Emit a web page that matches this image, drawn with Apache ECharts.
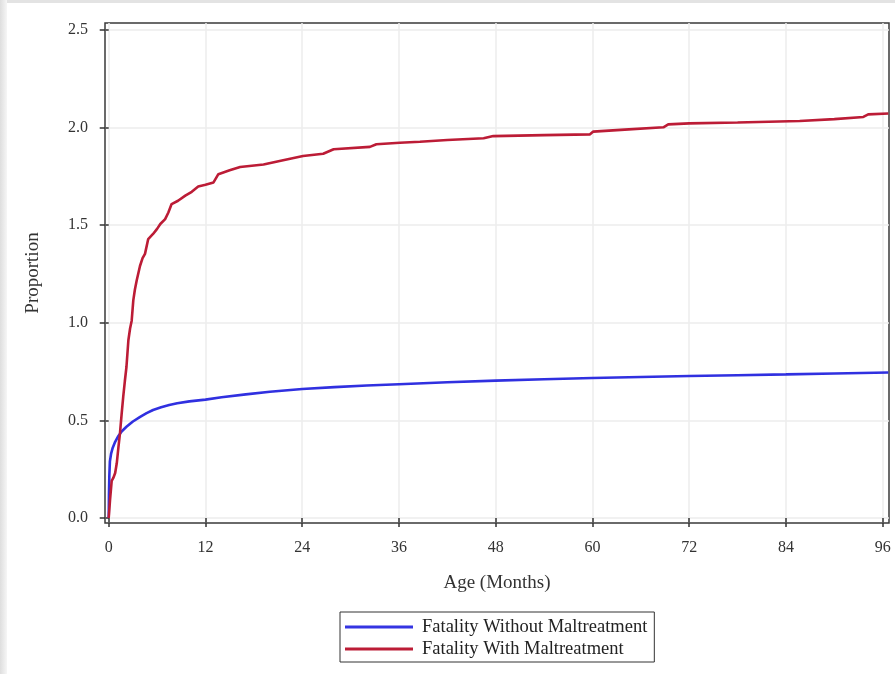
<!DOCTYPE html>
<html>
<head>
<meta charset="utf-8">
<script src="https://cdn.jsdelivr.net/npm/echarts@6/dist/echarts.min.js"></script>
<style>
html,body{margin:0;padding:0;background:#ffffff;}
#chart{width:895px;height:674px;}
</style>
</head>
<body>
<div id="chart"></div>
<script>
var xTicks = [0, 12, 24, 36, 48, 60, 72, 84, 96];
var yTicks = [0, 0.5, 1.0, 1.5, 2.0, 2.5];
var seriesNames = ['Fatality Without Maltreatment', 'Fatality With Maltreatment'];
var xTitle = 'Age (Months)';
var yTitle = 'Proportion';

var withoutMaltreatment = [
  [0,0],[0.03,0.12],[0.08,0.22],[0.15,0.29],[0.3,0.33],[0.5,0.36],[0.8,0.39],[1.2,0.42],[1.6,0.443],
  [2.2,0.467],[3,0.494],[3.9,0.518],[4.7,0.537],[5.5,0.553],[6.5,0.567],[7.5,0.578],[8.5,0.587],
  [10,0.597],[12,0.606],[14,0.618],[17,0.633],[20,0.646],[24,0.66],[28,0.67],[32,0.678],[36,0.685],
  [42,0.695],[48,0.703],[54,0.71],[60,0.717],[66,0.722],[72,0.727],[78,0.731],[84,0.735],[90,0.74],
  [96.7,0.745]
];
var withMaltreatment = [
  [0,0],[0.16,0.09],[0.37,0.19],[0.57,0.205],[0.8,0.23],[1.0,0.28],[1.2,0.36],[1.4,0.434],[1.6,0.53],
  [1.8,0.62],[2.0,0.70],[2.2,0.773],[2.44,0.91],[2.65,0.97],[2.85,1.01],[3.05,1.114],[3.25,1.17],
  [3.47,1.216],[3.88,1.29],[4.2,1.33],[4.5,1.352],[4.9,1.428],[5.5,1.454],[6.0,1.48],[6.4,1.505],
  [7.0,1.53],[7.4,1.564],[7.8,1.607],[8.6,1.624],[9.5,1.65],[10.3,1.67],[11.1,1.697],[12.0,1.706],
  [13.0,1.718],[13.6,1.76],[15.0,1.78],[16.3,1.797],[19.2,1.81],[21.2,1.828],[24.1,1.853],[26.6,1.865],
  [27.9,1.888],[32.4,1.90],[33.2,1.913],[36.1,1.921],[38.6,1.926],[42,1.935],[46.5,1.944],[47.7,1.955],
  [54,1.96],[59.7,1.964],[60.1,1.978],[64,1.988],[68.8,2.0],[69.4,2.015],[72,2.02],[78,2.025],
  [85.7,2.032],[90,2.042],[93.6,2.053],[94.2,2.066],[96.7,2.071]
];

var FONT = 'Liberation Serif';
var chart = echarts.init(document.getElementById('chart'), null, {renderer: 'canvas'});
chart.setOption({
  animation: false,
  backgroundColor: '#ffffff',
  graphic: [
    {type: 'rect', shape: {x: 0, y: 0, width: 895, height: 3}, style: {fill: '#e3e3e3'}, silent: true},
    {type: 'rect', shape: {x: 0, y: 0, width: 7, height: 674},
     style: {fill: new echarts.graphic.LinearGradient(0, 0, 1, 0, [{offset: 0, color: '#dedede'}, {offset: 1, color: '#f6f6f6'}])}, silent: true}
  ],
  grid: {left: 105, top: 23, width: 784, height: 500, show: true, borderColor: '#3a3a3a', borderWidth: 1.5, backgroundColor: 'transparent'},
  legend: {
    orient: 'vertical',
    left: 340, top: 612,
    data: seriesNames,
    icon: 'rect',
    itemWidth: 68, itemHeight: 3, itemGap: 2,
    padding: [5, 7, 3, 5],
    borderColor: '#333', borderWidth: 1,
    textStyle: {fontFamily: FONT, fontSize: 18.5, color: '#222', lineHeight: 20, padding: [0, 0, 0, 4]}
  },
  xAxis: {
    type: 'value', min: -0.46, max: 96.78,
    name: xTitle, nameLocation: 'middle', nameGap: 51,
    nameTextStyle: {fontFamily: FONT, fontSize: 19, color: '#333'},
    axisLine: {show: false},
    axisTick: {show: true, length: 9, customValues: xTicks, lineStyle: {color: '#333', width: 1.5}},
    axisLabel: {customValues: xTicks, fontFamily: FONT, fontSize: 16, color: '#333', margin: 17},
    splitLine: {show: true, lineStyle: {color: '#ececec', width: 1.5}}
  },
  yAxis: {
    type: 'value', min: -0.0256, max: 2.534,
    name: yTitle, nameLocation: 'middle', nameGap: 62,
    nameTextStyle: {fontFamily: FONT, fontSize: 19, color: '#333'},
    axisLine: {show: false},
    axisTick: {show: true, length: 9, customValues: yTicks, lineStyle: {color: '#333', width: 1.5}},
    axisLabel: {customValues: yTicks, fontFamily: FONT, fontSize: 16, color: '#333', margin: 17,
      formatter: function (v) { return v.toFixed(1); }},
    splitLine: {show: true, lineStyle: {color: '#ececec', width: 1.5}}
  },
  series: [
    {name: seriesNames[0], type: 'line', data: withoutMaltreatment, showSymbol: false, smooth: false,
     lineStyle: {color: '#3030E0', width: 2.6}, itemStyle: {color: '#3535E2'}, z: 3},
    {name: seriesNames[1], type: 'line', data: withMaltreatment, showSymbol: false, smooth: false,
     lineStyle: {color: '#BC1C36', width: 2.6}, itemStyle: {color: '#BC1C36'}, z: 4}
  ]
});
</script>
</body>
</html>
